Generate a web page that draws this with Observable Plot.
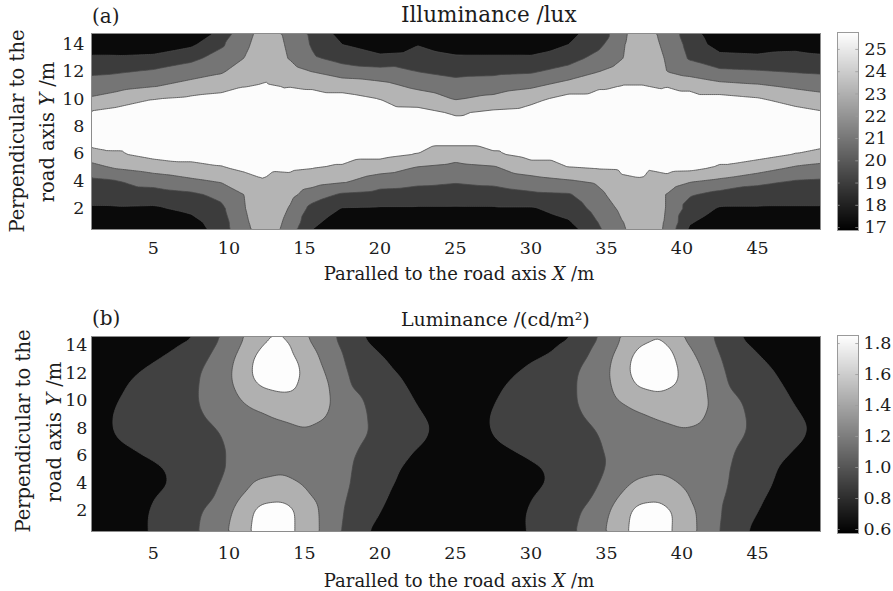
<!DOCTYPE html>
<html><head><meta charset="utf-8">
<script src="https://cdn.jsdelivr.net/npm/d3@7"></script>
<script src="https://cdn.jsdelivr.net/npm/@observablehq/plot@0.6"></script>
<style>
body{margin:0;background:#fff;}
#fig{position:relative;width:893px;height:591px;overflow:hidden;background:#fff;}
#fig svg{position:absolute;overflow:visible;}
</style></head><body><div id="fig"></div>
<script>
// ---------- data ----------
// (a) Illuminance /lux : grid columns (x, m), rows (y, m) from top to bottom
const illumX = [0, 2.5, 5, 7.5, 9.5, 11, 12.5, 14, 15.5, 17.5, 20, 22.5, 25, 27.5, 30, 32.5, 34.5, 36, 37.5, 39, 40.5, 42.5, 45, 47.5, 50];
const illumY = [15, 14, 13, 12, 11, 10, 9, 8, 7, 6, 5, 4, 3, 2, 1, 0];
const illum = [
  [17.0,17.0,17.0,17.0,19.3,22.3,23.8,22.5,20.6,17.9,17.0,17.8,17.0,17.0,17.0,18.6,19.5,22.7,23.8,22.3,19.9,17.0,17.0,17.2,17.0],
  [17.9,17.8,17.7,18.6,20.7,22.6,24.1,22.7,20.8,19.0,17.6,18.9,18.0,17.9,17.8,19.0,20.5,22.8,24.1,22.5,20.4,18.0,17.8,18.4,17.9],
  [19.3,19.3,19.5,20.5,21.8,23.0,24.4,22.9,21.3,20.3,19.6,19.9,19.3,19.3,19.3,20.2,21.7,22.9,24.4,22.8,20.8,19.7,19.5,19.6,19.3],
  [20.6,20.8,21.3,22.1,22.8,24.0,24.7,23.9,23.0,22.0,21.7,21.0,20.5,20.6,20.8,21.8,23.0,23.8,24.7,23.0,22.2,21.4,21.2,20.9,20.7],
  [21.8,22.2,22.8,23.7,24.2,24.9,25.1,24.9,24.7,24.2,23.6,22.5,21.7,22.0,22.6,23.8,24.7,25.0,25.0,24.9,24.5,23.6,23.2,22.6,22.1],
  [23.0,23.9,25.0,25.4,25.7,25.7,25.4,25.7,25.7,25.7,25.0,24.1,22.9,23.5,24.5,25.7,25.7,25.7,25.3,25.7,25.7,25.7,25.2,24.2,23.6],
  [25.0,25.7,25.7,25.7,25.7,25.7,25.7,25.7,25.7,25.7,25.7,25.6,24.8,25.4,25.7,25.7,25.7,25.7,25.6,25.7,25.7,25.7,25.7,25.7,25.0],
  [25.7,25.7,25.7,25.7,25.7,25.7,25.7,25.7,25.7,25.7,25.7,25.7,25.7,25.7,25.7,25.7,25.7,25.7,25.7,25.7,25.7,25.7,25.7,25.7,25.7],
  [25.7,25.7,25.7,25.7,25.7,25.7,25.7,25.7,25.7,25.7,25.7,25.7,25.7,25.7,25.7,25.7,25.7,25.7,25.7,25.7,25.7,25.7,25.7,25.7,25.7],
  [23.7,24.8,25.7,25.7,25.7,25.7,25.5,25.7,25.7,25.7,25.7,25.0,24.0,24.8,25.7,25.7,25.7,25.7,25.5,25.7,25.7,25.7,25.7,25.0,24.1],
  [21.9,23.2,23.9,24.5,24.9,25.4,25.2,25.3,25.1,24.8,23.9,22.9,22.4,22.8,24.2,25.0,25.2,25.3,25.2,25.7,25.6,24.8,24.1,22.8,22.3],
  [20.6,20.9,21.8,22.6,23.2,24.2,24.9,24.5,23.9,23.3,22.0,21.5,21.2,21.5,22.2,22.8,23.4,24.7,24.9,24.2,23.2,22.6,21.5,20.9,20.7],
  [19.7,19.9,20.1,20.6,21.5,23.0,24.6,23.6,22.0,20.7,20.3,20.1,20.0,20.1,20.6,20.8,22.5,24.1,24.6,22.9,21.2,20.3,20.0,19.8,19.8],
  [18.8,18.8,18.7,19.5,20.6,22.9,24.4,22.9,20.4,18.9,18.8,18.8,18.8,18.8,18.8,19.8,21.8,23.4,24.4,22.9,20.2,18.8,18.8,18.8,18.8],
  [17.9,17.7,17.4,18.3,20.1,22.7,24.1,22.5,19.5,17.9,17.9,17.9,17.5,17.9,17.9,18.8,21.1,22.9,24.1,22.8,19.2,17.9,17.9,17.9,17.9],
  [17.0,17.0,17.0,17.1,19.6,22.6,23.8,22.2,18.6,17.0,17.0,17.0,17.0,17.0,17.0,17.7,20.5,22.7,23.8,22.7,18.3,17.0,17.0,17.0,17.0]
];
const illumLevels = [16, 19, 21, 23, 25];
const illumShades = ["#0a0a0a", "#3c3c3c", "#757575", "#b4b4b4", "#fcfcfc"];
const illumBarTicks = [17, 18, 19, 20, 21, 22, 23, 24, 25];

// (b) Luminance /(cd/m2)
const lumX = [0, 2.5, 5, 7.5, 9, 10.5, 12, 13.5, 15, 16.5, 18, 20, 22.5, 25, 27.5, 30, 32.5, 34, 35.5, 37, 38.5, 40, 41.5, 43, 45, 47.5, 50];
const lumY = [15, 14, 13, 12, 11, 10, 9, 8, 7, 6, 5, 4, 3, 2, 1, 0];
const lum = [
  [0.60,0.60,0.60,0.72,1.06,1.37,1.65,1.64,1.45,1.26,1.02,0.67,0.60, 0.60,0.60,0.60,0.72,1.06,1.37,1.65,1.64,1.45,1.26,1.02,0.67,0.60, 0.60],
  [0.60,0.60,0.68,0.99,1.18,1.44,1.77,1.95,1.60,1.31,1.10,0.84,0.60, 0.60,0.60,0.68,0.99,1.18,1.44,1.77,1.95,1.60,1.31,1.10,0.84,0.60, 0.60],
  [0.60,0.68,0.88,1.09,1.24,1.53,1.90,1.95,1.74,1.39,1.14,0.94,0.69, 0.60,0.68,0.88,1.09,1.24,1.53,1.90,1.95,1.74,1.39,1.14,0.94,0.69, 0.60],
  [0.63,0.80,0.97,1.14,1.29,1.56,1.92,1.95,1.78,1.48,1.17,1.00,0.79, 0.63,0.80,0.97,1.14,1.29,1.56,1.92,1.95,1.78,1.48,1.17,1.00,0.79, 0.63],
  [0.71,0.86,1.01,1.15,1.30,1.53,1.81,1.88,1.76,1.54,1.20,1.04,0.84, 0.71,0.86,1.01,1.15,1.30,1.53,1.81,1.88,1.76,1.54,1.20,1.04,0.84, 0.71],
  [0.75,0.89,1.02,1.16,1.28,1.47,1.64,1.70,1.72,1.55,1.30,1.09,0.88, 0.75,0.89,1.02,1.16,1.28,1.47,1.64,1.70,1.72,1.55,1.30,1.09,0.88, 0.75],
  [0.78,0.91,1.03,1.15,1.24,1.35,1.47,1.59,1.68,1.51,1.32,1.12,0.92, 0.78,0.91,1.03,1.15,1.24,1.35,1.47,1.59,1.68,1.51,1.32,1.12,0.92, 0.78],
  [0.80,0.91,1.02,1.13,1.19,1.26,1.33,1.40,1.49,1.45,1.31,1.14,0.95, 0.80,0.91,1.02,1.13,1.19,1.26,1.33,1.40,1.49,1.45,1.31,1.14,0.95, 0.80],
  [0.78,0.89,1.00,1.11,1.17,1.24,1.30,1.36,1.42,1.34,1.26,1.12,0.93, 0.78,0.89,1.00,1.11,1.17,1.24,1.30,1.36,1.42,1.34,1.26,1.12,0.93, 0.78],
  [0.67,0.81,0.94,1.08,1.16,1.23,1.31,1.38,1.36,1.29,1.23,1.08,0.86, 0.67,0.81,0.94,1.08,1.16,1.23,1.31,1.38,1.36,1.29,1.23,1.08,0.86, 0.67],
  [0.60,0.66,0.84,1.02,1.13,1.25,1.36,1.44,1.36,1.29,1.22,1.03,0.78, 0.60,0.66,0.84,1.02,1.13,1.25,1.36,1.44,1.36,1.29,1.22,1.03,0.78, 0.60],
  [0.60,0.62,0.82,1.02,1.14,1.32,1.57,1.62,1.48,1.35,1.21,1.00,0.75, 0.60,0.62,0.82,1.02,1.14,1.32,1.57,1.62,1.48,1.35,1.21,1.00,0.75, 0.60],
  [0.60,0.70,0.89,1.07,1.18,1.46,1.69,1.72,1.56,1.37,1.18,0.96,0.68, 0.60,0.70,0.89,1.07,1.18,1.46,1.69,1.72,1.56,1.37,1.18,0.96,0.68, 0.60],
  [0.60,0.73,0.92,1.12,1.27,1.55,1.89,1.95,1.69,1.39,1.14,0.91,0.62, 0.60,0.73,0.92,1.12,1.27,1.55,1.89,1.95,1.69,1.39,1.14,0.91,0.62, 0.60],
  [0.60,0.73,0.93,1.13,1.32,1.59,1.91,1.95,1.69,1.40,1.11,0.85,0.60, 0.60,0.73,0.93,1.13,1.32,1.59,1.91,1.95,1.69,1.40,1.11,0.85,0.60, 0.60],
  [0.60,0.69,0.92,1.15,1.34,1.61,1.93,1.93,1.69,1.40,1.06,0.74,0.60, 0.60,0.69,0.92,1.15,1.34,1.61,1.93,1.93,1.69,1.40,1.06,0.74,0.60, 0.60]
];
const lumLevels = [0.5, 0.9, 1.2, 1.5, 1.8];
const lumShades = ["#090909", "#414141", "#777777", "#b0b0b0", "#fdfdfd"];
const lumBarTicks = [0.6, 0.8, 1.0, 1.2, 1.4, 1.6, 1.8];

const xTicks = [5, 10, 15, 20, 25, 30, 35, 40, 45];
const yTicks = [2, 4, 6, 8, 10, 12, 14];

// ---------- drawing ----------
const FONT = "DejaVu Serif";
const TICK_FS = 17.5;
const INK = "#1c1c1c";
const fig = document.getElementById("fig");

function addText(svg, {x, y, parts, anchor = "start", rotate = false, size = 19}) {
  const t = d3.select(svg).append("text")
    .attr("font-family", FONT).attr("font-size", size).attr("fill", INK)
    .attr("text-anchor", anchor);
  if (rotate) t.attr("transform", `translate(${x},${y}) rotate(-90)`);
  else t.attr("x", x).attr("y", y);
  for (const p of parts) {
    const s = t.append("tspan").text(typeof p === "string" ? p : p.t);
    if (p.i) s.attr("font-style", "italic");
  }
}

function panel(o) {
  const pts = o.rows.flatMap((row, j) => row.map((v, i) => ({x: o.xs[i], y: o.ys[j], v})));
  const svg = Plot.plot({
    width: 893, height: o.height,
    marginLeft: 91, marginRight: 73, marginTop: o.mt, marginBottom: o.mb,
    x: {domain: [0.9, 49.17]},
    y: {domain: o.yDomain},
    color: {type: "threshold", domain: o.levels.slice(1), range: o.shades},
    style: {fontFamily: FONT, fontSize: TICK_FS + "px", color: INK, background: "transparent"},
    marks: [
      Plot.contour(pts, {
        x: "x", y: "y", value: "v", fill: "value",
        thresholds: o.levels, interpolate: "barycentric",
        blur: o.blur, stroke: "#474747", strokeWidth: 0.8, clip: true
      }),
      Plot.frame({stroke: "#8c8c8c"}),
      Plot.axisX({ticks: xTicks, tickSize: 0, tickPadding: o.xPad, label: null}),
      Plot.axisY({ticks: yTicks, tickSize: 0, tickPadding: o.yPad, label: null})
    ]
  });
  svg.style.left = "0px";
  svg.style.top = o.top + "px";
  fig.appendChild(svg);
  addText(svg, {x: 92, y: o.tagY, parts: [o.tag], size: 20});
  addText(svg, {x: 401, y: o.titleY, parts: o.title, size: o.titleSize});
  addText(svg, {x: 459, y: o.xLabY, anchor: "middle", size: 18,
    parts: ["Paralled to the road axis ", {t: "X", i: true}, " /m"]});
  addText(svg, {x: o.yLab1X, y: o.yLabY, anchor: "middle", rotate: true, size: 19.5, parts: ["Perpendicular to the"]});
  addText(svg, {x: o.yLab2X, y: o.yLabY + 1, anchor: "middle", rotate: true, size: 19.5,
    parts: ["road axis ", {t: "Y", i: true}, " /m"]});
}

function colorbar(o) {
  const svg = Plot.plot({
    width: 63, height: o.height,
    marginLeft: 7, marginRight: 35, marginTop: o.mt, marginBottom: o.mb,
    x: {domain: [0, 1], axis: null},
    y: {domain: [o.lo, o.hi]},
    color: {type: "linear", domain: [o.lo, o.hi], range: ["#000000", "#ffffff"]},
    style: {fontFamily: FONT, fontSize: TICK_FS + "px", color: INK, background: "transparent"},
    marks: [
      Plot.raster({fill: (x, y) => y, x1: 0, x2: 1, y1: o.lo, y2: o.hi}),
      Plot.ruleY(o.ticks, {x1: 0, x2: 0.13, stroke: "#9a9a9a", strokeWidth: 0.8}),
      Plot.ruleY(o.ticks, {x1: 0.87, x2: 1, stroke: "#9a9a9a", strokeWidth: 0.8}),
      Plot.frame({stroke: "#9a9a9a"}),
      Plot.axisY({anchor: "right", ticks: o.ticks, tickSize: 0, tickPadding: o.pad, tickFormat: o.fmt, label: null})
    ]
  });
  svg.style.left = "830px";
  svg.style.top = o.top + "px";
  fig.appendChild(svg);
}

panel({
  xs: illumX, ys: illumY, rows: illum, levels: illumLevels, shades: illumShades,
  yDomain: [0.46, 14.8], top: 0, height: 290, mt: 33, mb: 61, xPad: 12, yPad: 7, blur: 0,
  tag: "(a)", tagY: 23, title: ["Illuminance /lux"], titleY: 22, titleSize: 21.5, xLabY: 280,
  yLab1X: 24, yLab2X: 54, yLabY: 131
});
colorbar({top: 0, height: 290, mt: 32, mb: 60, lo: 16.87, hi: 25.76, ticks: illumBarTicks, pad: 6, fmt: d => String(d)});

panel({
  xs: lumX, ys: lumY, rows: lum, levels: lumLevels, shades: lumShades,
  yDomain: [0.47, 14.65], top: 291, height: 300, mt: 45, mb: 60, xPad: 15, yPad: 4, blur: 2,
  tag: "(b)", tagY: 34, title: ["Luminance /(cd/m", "\u00B2", ")"], titleY: 35, titleSize: 19, xLabY: 296,
  yLab1X: 30, yLab2X: 61, yLabY: 140
});
colorbar({top: 291, height: 300, mt: 44, mb: 58, lo: 0.574, hi: 1.852, ticks: lumBarTicks, pad: 5, fmt: d => d.toFixed(1)});
</script>
</body></html>
